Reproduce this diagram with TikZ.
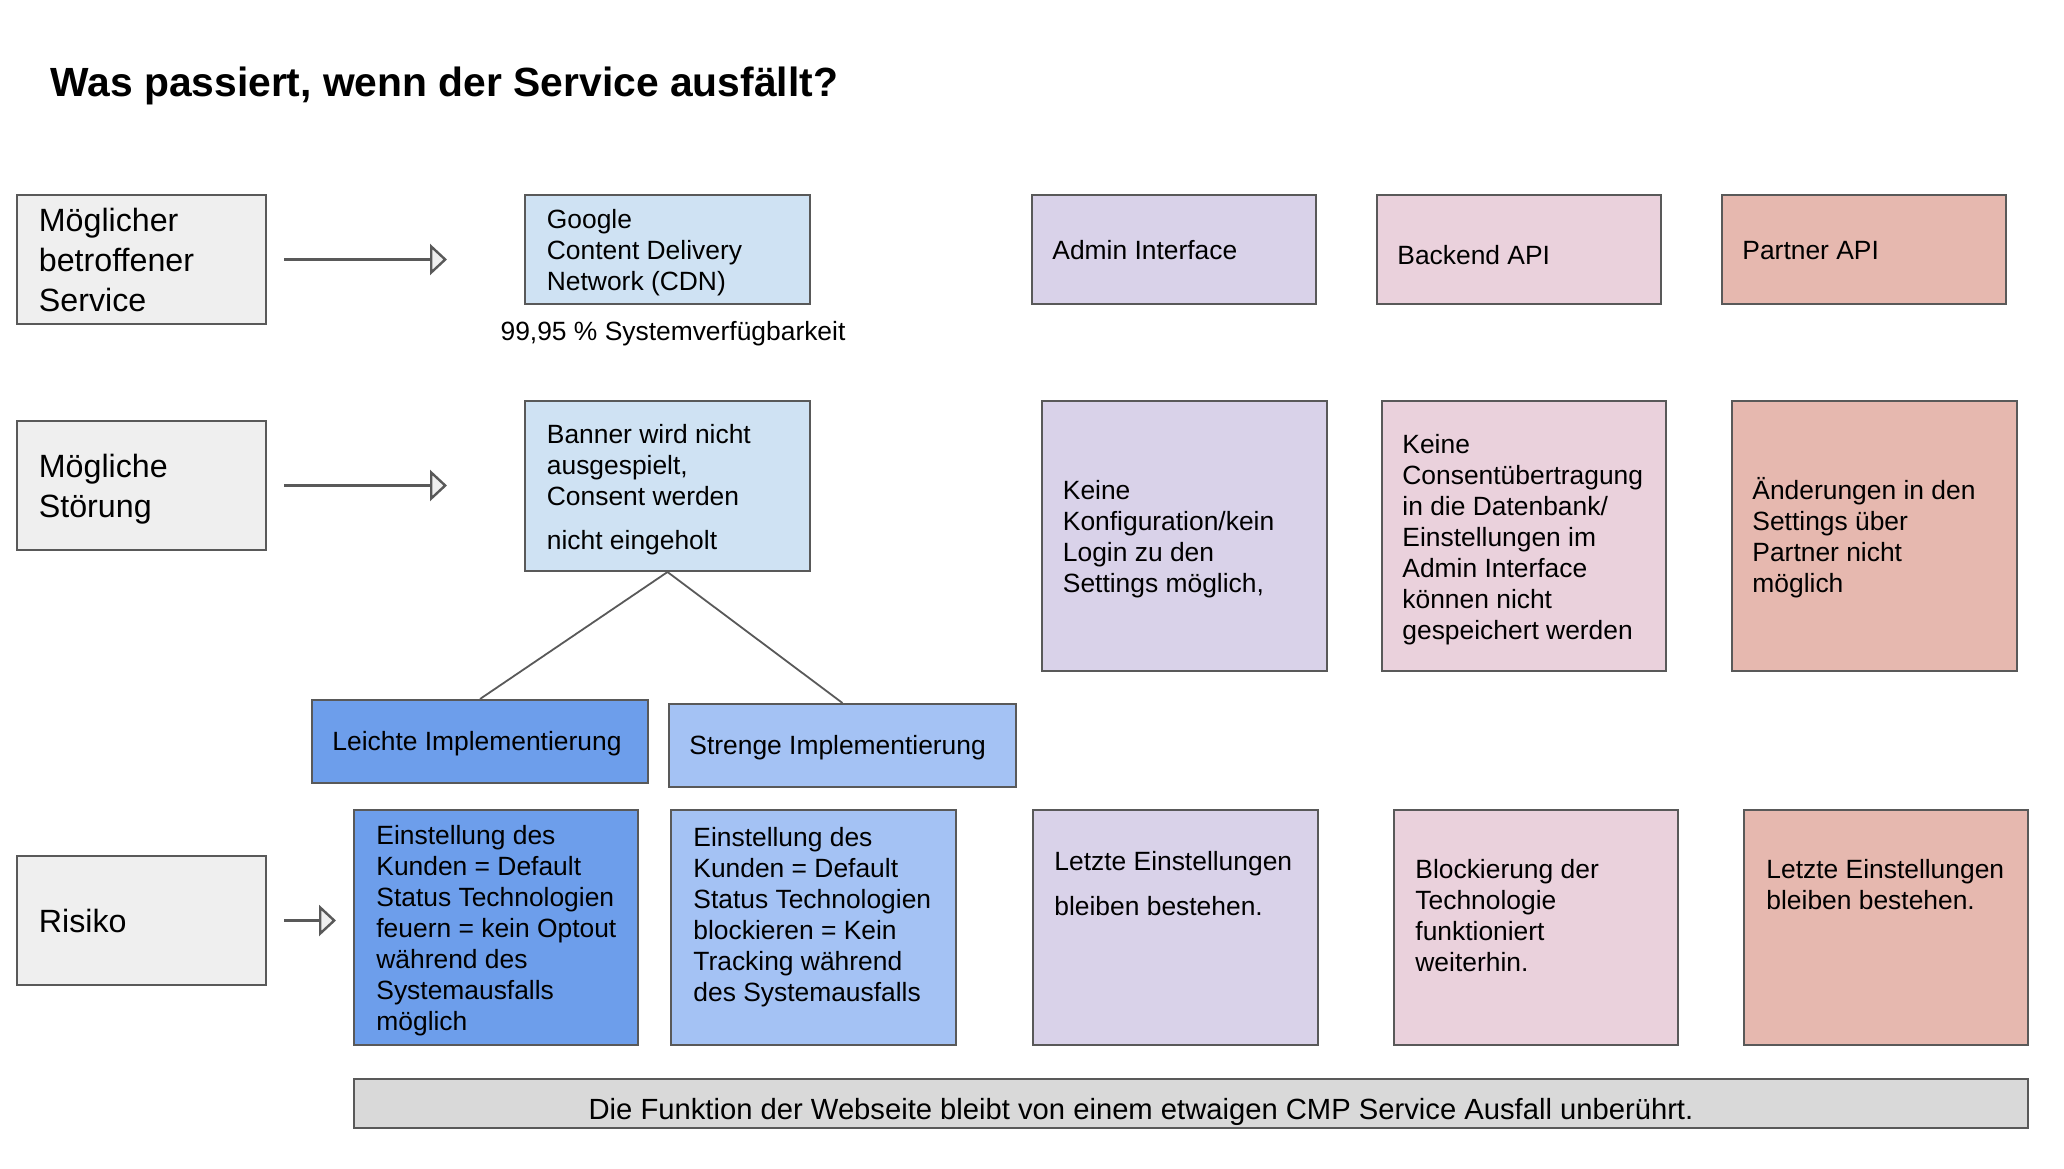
\documentclass[tikz,border=0pt]{standalone}
\usepackage{fontspec}
\setmainfont{Liberation Sans}
\usetikzlibrary{arrows.meta,calc}
\definecolor{bordergray}{HTML}{595959}
\definecolor{leftgray}{HTML}{EFEFEF}
\definecolor{arrowfill}{HTML}{EFEFEF}
\definecolor{gblue}{HTML}{CFE2F3}
\definecolor{lav}{HTML}{D9D2E9}
\definecolor{pink}{HTML}{EAD1DC}
\definecolor{salmon}{HTML}{E6B8AF}
\definecolor{midblue}{HTML}{6D9EEB}
\definecolor{lightblue}{HTML}{A4C2F4}
\definecolor{bargray}{HTML}{D9D9D9}
\newcommand{\mytab}[2][c]{\begin{tabular}[#1]{@{}l@{}}#2\end{tabular}}
\begin{document}
\begin{tikzpicture}[x=0.5pt,y=-0.5pt,
  box/.style={draw=bordergray, line width=1pt, inner sep=0pt, rectangle},
  sz/.style 2 args={minimum width=#1*0.5pt, minimum height=#2*0.5pt},
  txt/.style={inner sep=0pt, font=\fontsize{13.2}{15.5}\selectfont},
  lbl/.style={inner sep=0pt, font=\fontsize{16.1}{20}\selectfont},
  down/.style={yshift=-2pt},
  arr/.style={draw=bordergray, line width=1.2pt, -{Triangle[length=8.5pt,width=15.5pt,fill=arrowfill]}},
  link/.style={draw=bordergray, line width=0.9pt}]
\useasboundingbox (0,0) rectangle (2064,1168);

% title
\node[anchor=base west, inner sep=0pt, font=\fontsize{20.4}{24}\selectfont\bfseries] (title) at (50,96) {Was passiert, wenn der Service ausfällt?};

% left column
\node[box, fill=leftgray, sz={249}{129}] (L1) at (141.5,259.5) {};
\node[lbl, down, anchor=west] (L1t) at ($(L1.west)+(22.5,0)$) {\mytab{Möglicher\\betroffener\\Service}};
\node[box, fill=leftgray, sz={249}{129}] (L2) at (141.5,485.5) {};
\node[lbl, down, anchor=west] (L2t) at ($(L2.west)+(22.5,0)$) {\mytab{Mögliche\\Störung}};
\node[box, fill=leftgray, sz={249}{129}] (L3) at (141.5,920.5) {};
\node[lbl, down, anchor=west] (L3t) at ($(L3.west)+(22.5,0)$) {\mytab{Risiko}};

% row 1
\node[box, fill=gblue, sz={285}{109}] (G) at (667.5,249.5) {};
\node[txt, down, anchor=west] (Gt) at ($(G.west)+(22.5,0)$) {\mytab{Google\\Content Delivery\\Network (CDN)}};
\node[txt, down, anchor=center] (Gav) at ($(G.south)+(5.5,25)$) {99,95 \% Systemverfügbarkeit};
\node[box, fill=lav, sz={284}{109}] (A1) at (1174,249.5) {};
\node[txt, down, anchor=west] (A1t) at ($(A1.west)+(21,0)$) {\mytab{Admin Interface}};
\node[box, fill=pink, sz={284}{109}] (B1) at (1519,249.5) {};
\node[txt, down, anchor=west] (B1t) at ($(B1.west)+(21,5)$) {\mytab{Backend API}};
\node[box, fill=salmon, sz={284}{109}] (P1) at (1864,249.5) {};
\node[txt, down, anchor=west] (P1t) at ($(P1.west)+(21,0)$) {\mytab{Partner API}};

% row 2
\node[box, fill=gblue, sz={285}{170}] (Ban) at (667.5,486) {};
\node[txt, down, anchor=west] (Bant) at ($(Ban.west)+(22.5,0)$) {\mytab{Banner wird nicht\\ausgespielt,\\Consent werden\\[6.5pt]nicht eingeholt}};
\node[box, fill=lav, sz={285}{270}] (A2) at (1184.5,536) {};
\node[txt, down, anchor=west] (A2t) at ($(A2.west)+(21.5,0)$) {\mytab{Keine\\Konfiguration/kein\\Login zu den\\Settings möglich,}};
\node[box, fill=pink, sz={284}{270}] (B2) at (1524,536) {};
\node[txt, down, anchor=west] (B2t) at ($(B2.west)+(21,0)$) {\mytab{Keine\\Consentübertragung\\in die Datenbank/\\Einstellungen im\\Admin Interface\\können nicht\\gespeichert werden}};
\node[box, fill=salmon, sz={285}{270}] (P2) at (1874.5,536) {};
\node[txt, down, anchor=west] (P2t) at ($(P2.west)+(21,0)$) {\mytab{Änderungen in den\\Settings über\\Partner nicht\\möglich}};

% implementations
\node[box, fill=midblue, sz={336}{83}] (Le) at (480,741.5) {};
\node[txt, down, anchor=west] (Let) at ($(Le.west)+(21,-1.5)$) {\mytab{Leichte Implementierung}};
\node[box, fill=lightblue, sz={347}{83}] (St) at (842.5,745.5) {};
\node[txt, down, anchor=west] (Stt) at ($(St.west)+(21,-1.5)$) {\mytab{Strenge Implementierung}};

% row 3
\node[box, fill=midblue, sz={284}{235}] (E1) at (496,927.5) {};
\node[txt, down, anchor=west] (E1t) at ($(E1.west)+(23,0)$) {\mytab{Einstellung des\\Kunden = Default\\Status Technologien\\feuern = kein Optout\\während des\\Systemausfalls\\möglich}};
\node[box, fill=lightblue, sz={285}{235}] (E2) at (813.5,927.5) {};
\node[txt, anchor=base west] (E2t) at ($(E2.north west)+(23,37)$) {\mytab[t]{Einstellung des\\Kunden = Default\\Status Technologien\\blockieren = Kein\\Tracking während\\des Systemausfalls}};
\node[box, fill=lav, sz={285}{235}] (A3) at (1175.5,927.5) {};
\node[txt, anchor=base west] (A3t) at ($(A3.north west)+(22,61)$) {\mytab[t]{Letzte Einstellungen\\[7pt]bleiben bestehen.}};
\node[box, fill=pink, sz={284}{235}] (B3) at (1536,927.5) {};
\node[txt, anchor=base west] (B3t) at ($(B3.north west)+(22,69.5)$) {\mytab[t]{Blockierung der\\Technologie\\funktioniert\\weiterhin.}};
\node[box, fill=salmon, sz={284}{235}] (P3) at (1886,927.5) {};
\node[txt, anchor=base west] (P3t) at ($(P3.north west)+(23,69.5)$) {\mytab[t]{Letzte Einstellungen\\bleiben bestehen.}};

% bottom bar
\node[box, fill=bargray, sz={1674}{49}] (Bar) at (1191,1103.5) {};
\node[inner sep=0pt, font=\fontsize{14.6}{17}\selectfont, anchor=base] (Bart) at ($(Bar.center)+(-50,16)$) {Die Funktion der Webseite bleibt von einem etwaigen CMP Service Ausfall unberührt.};

% connectors
\draw[arr, shorten <=8.5pt, shorten >=38.5pt] (L1.east) -- (L1.east -| G.west);
\draw[arr, shorten <=8.5pt, shorten >=38.5pt] (L2.east) -- (L2.east -| Ban.west);
\draw[arr, shorten <=8.5pt, shorten >=8.5pt] (L3.east) -- (L3.east -| E1.west);
\draw[link] (Ban.south) -- (Le.north);
\draw[link] (Ban.south) -- (St.north);
\end{tikzpicture}
\end{document}
